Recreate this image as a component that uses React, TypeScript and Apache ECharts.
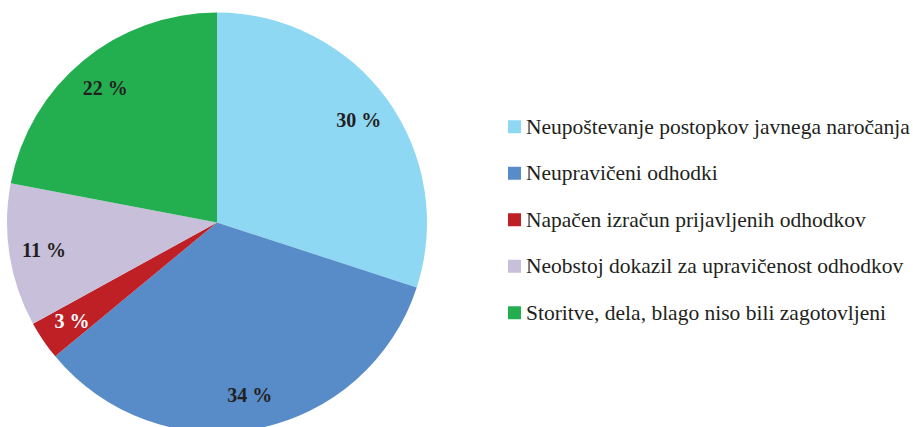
import React, { useEffect, useRef } from "react";
import * as echarts from "echarts";

const categories = [
  "Neupoštevanje postopkov javnega naročanja",
  "Neupravičeni odhodki",
  "Napačen izračun prijavljenih odhodkov",
  "Neobstoj dokazil za upravičenost odhodkov",
  "Storitve, dela, blago niso bili zagotovljeni",
];
const values = [30, 34, 3, 11, 22];
const colors = ["#8FD8F4", "#588CC8", "#BE2026", "#C8BFDA", "#23AF50"];
const labelColors = ["#231F20", "#231F20", "#FFFFFF", "#231F20", "#231F20"];

const FONT = "Liberation Serif";

export default function App() {
  const ref = useRef<HTMLDivElement>(null);
  useEffect(() => {
    if (!ref.current) return;
    const chart = echarts.init(ref.current, undefined, { renderer: "svg" });
    const center = [217, 222.5];
    const R = 210;
    chart.setOption({
      animation: false,
      backgroundColor: "#FFFFFF",
      legend: {
        orient: "vertical",
        left: 503,
        top: 110.75,
        itemWidth: 13,
        itemHeight: 13,
        itemGap: 24.5,
        icon: "rect",
        textStyle: {
          fontFamily: FONT,
          fontSize: 21.5,
          lineHeight: 21.5,
          color: "#231F20",
        },
        data: categories.map((c, i) => ({ name: c, itemStyle: { color: colors[i] } })),
      },
      series: [
        {
          type: "pie",
          center,
          radius: [0, R],
          startAngle: 90,
          clockwise: true,
          silent: true,
          label: { show: false },
          labelLine: { show: false },
          itemStyle: { borderWidth: 0 },
          data: categories.map((c, i) => ({
            name: c,
            value: values[i],
            itemStyle: { color: colors[i] },
          })),
        },
        {
          type: "pie",
          center,
          radius: [R * 0.64, R],
          startAngle: 90,
          clockwise: true,
          silent: true,
          itemStyle: { color: "rgba(0,0,0,0)", borderWidth: 0 },
          labelLine: { show: false },
          label: {
            show: true,
            position: "inside",
            fontFamily: FONT,
            fontWeight: "bold",
            fontSize: 20,
            formatter: (p: any) => `${p.value} %`,
          },
          data: categories.map((c, i) => ({
            name: c,
            value: values[i],
            label: { color: labelColors[i] },
            itemStyle: { color: "rgba(0,0,0,0)" },
          })),
        },
      ],
    });
    return () => chart.dispose();
  }, []);
  return (
    <div
      ref={ref}
      style={{ position: "fixed", left: 0, top: 0, width: 913, height: 427 }}
    />
  );
}
